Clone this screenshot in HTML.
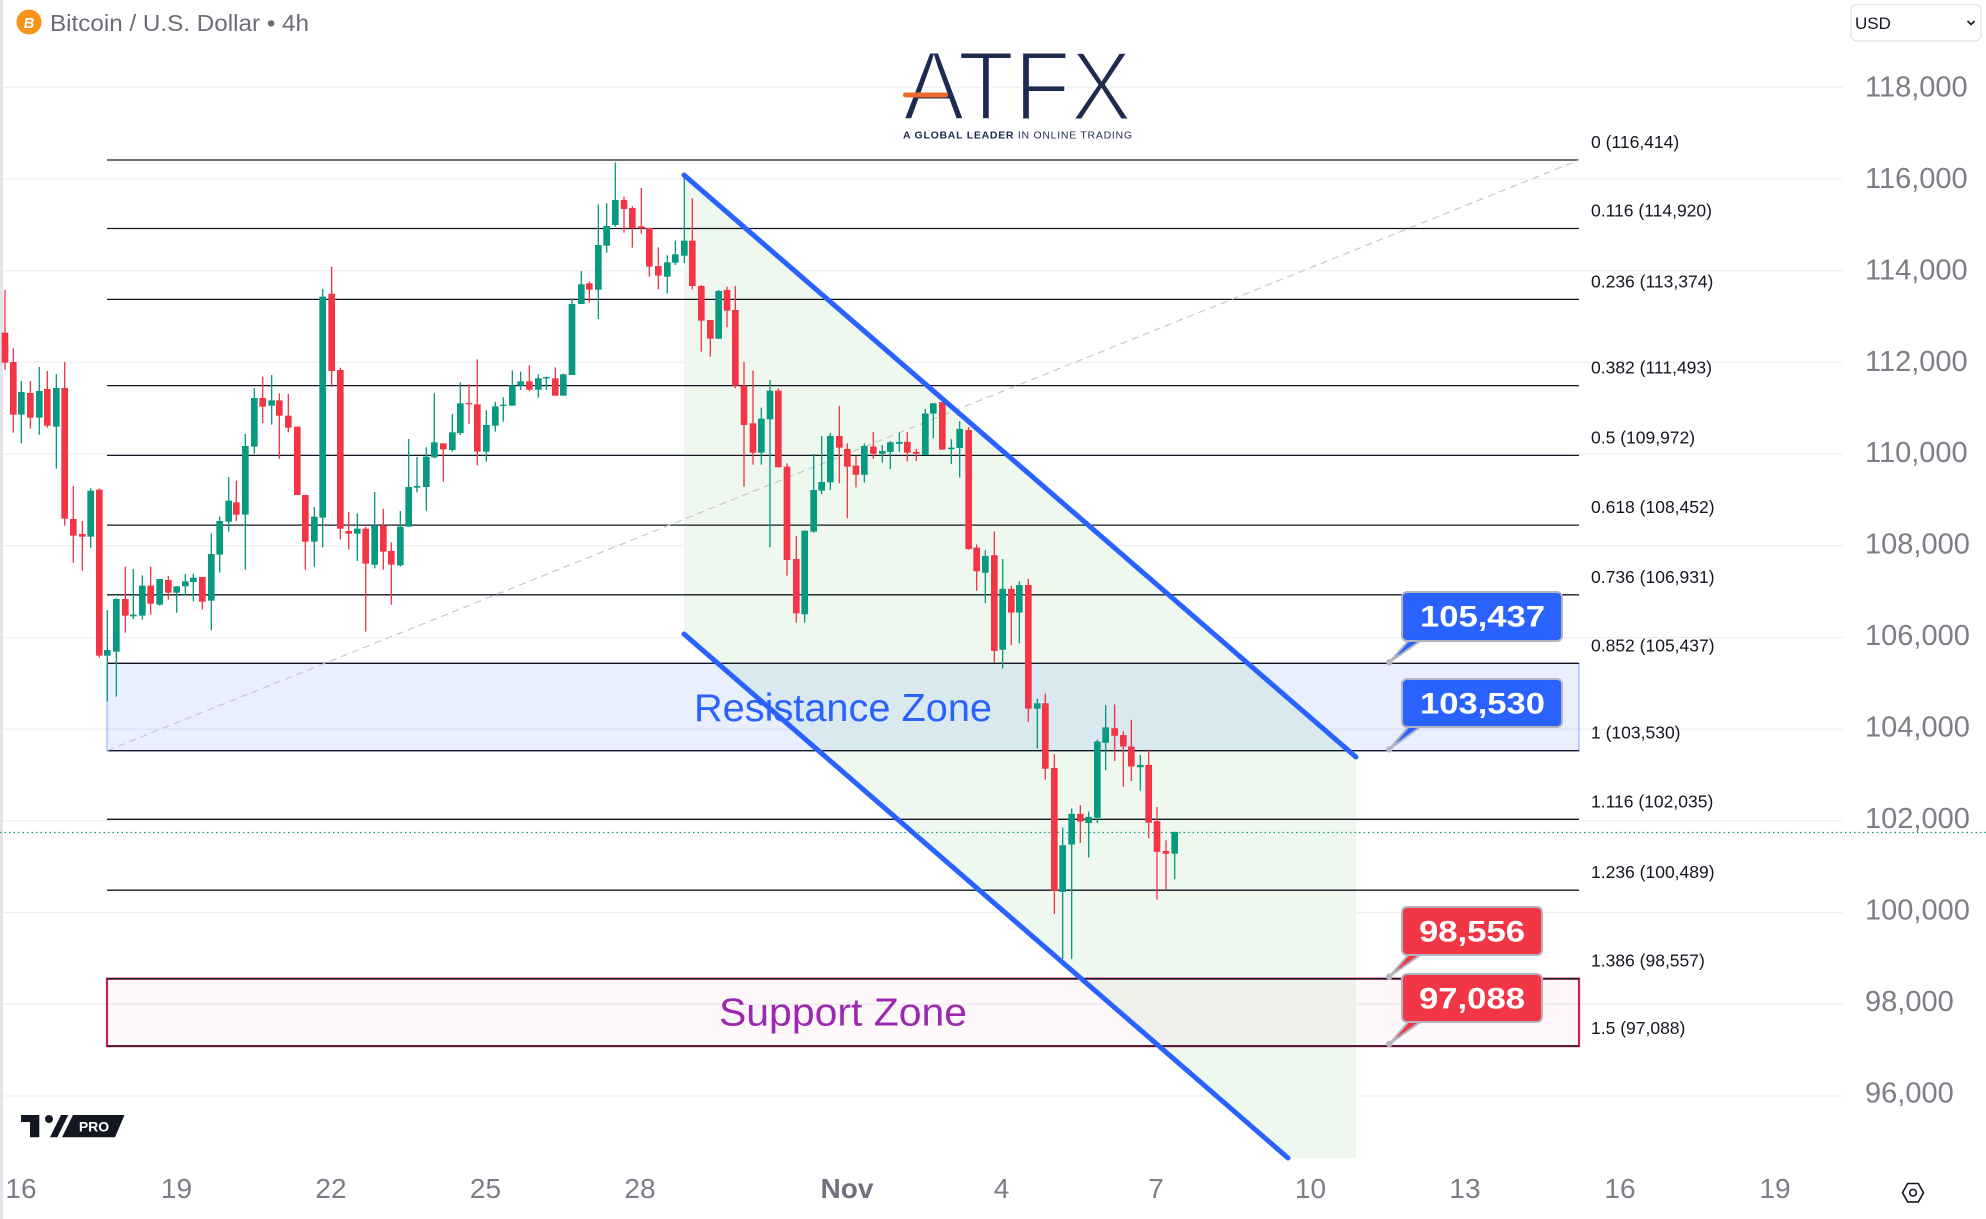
<!DOCTYPE html>
<html><head><meta charset="utf-8"><style>
html,body{margin:0;padding:0;background:#fff;}
svg{display:block;font-family:"Liberation Sans",Arial,sans-serif;}
</style></head><body>
<svg width="1986" height="1219" viewBox="0 0 1986 1219" xmlns="http://www.w3.org/2000/svg">
<rect width="1986" height="1219" fill="#fff"/>
<rect x="0" y="0" width="3" height="1219" fill="#e4e5ea"/>
<g stroke="#eff0f3" stroke-width="1.3">
<line x1="3" y1="87.3" x2="1843" y2="87.3"/><line x1="3" y1="179" x2="1843" y2="179"/><line x1="3" y1="270.7" x2="1843" y2="270.7"/><line x1="3" y1="362.4" x2="1843" y2="362.4"/><line x1="3" y1="454.1" x2="1843" y2="454.1"/><line x1="3" y1="545.8" x2="1843" y2="545.8"/><line x1="3" y1="637.5" x2="1843" y2="637.5"/><line x1="3" y1="729.2" x2="1843" y2="729.2"/><line x1="3" y1="820.9" x2="1843" y2="820.9"/><line x1="3" y1="912.6" x2="1843" y2="912.6"/><line x1="3" y1="1004.3" x2="1843" y2="1004.3"/><line x1="3" y1="1096" x2="1843" y2="1096"/>
</g>
<polygon points="684,175 1356,757 1356,1158 1288,1158 684,634" fill="#eff8ef"/>
<rect x="107" y="663.3" width="1472" height="87.4" fill="rgba(41,98,255,0.1)" stroke="rgba(41,98,255,0.4)" stroke-width="1.3"/>
<rect x="107" y="978.7" width="1472" height="67.4" fill="rgba(233,30,99,0.03)" stroke="#c8205e" stroke-width="2.2"/>
<g stroke="#131722" stroke-width="1.3">
<line x1="107" y1="160" x2="1579" y2="160"/><line x1="107" y1="228.5" x2="1579" y2="228.5"/><line x1="107" y1="299.4" x2="1579" y2="299.4"/><line x1="107" y1="385.6" x2="1579" y2="385.6"/><line x1="107" y1="455.4" x2="1579" y2="455.4"/><line x1="107" y1="525.1" x2="1579" y2="525.1"/><line x1="107" y1="594.8" x2="1579" y2="594.8"/><line x1="107" y1="663.3" x2="1579" y2="663.3"/><line x1="107" y1="750.7" x2="1579" y2="750.7"/><line x1="107" y1="819.3" x2="1579" y2="819.3"/><line x1="107" y1="890.2" x2="1579" y2="890.2"/><line x1="107" y1="978.7" x2="1579" y2="978.7"/><line x1="107" y1="1046.1" x2="1579" y2="1046.1"/>
</g>
<line x1="107" y1="750.7" x2="1579" y2="160" stroke="#c4c7cf" stroke-width="1.2" stroke-dasharray="7 5"/>
<line x1="0" y1="832.5" x2="1986" y2="832.5" stroke="#089981" stroke-width="1.3" stroke-dasharray="1.5 3"/>

<!-- candles group A -->
<g transform="translate(0,260) scale(0.333333)">
<g fill="#f23645">
<rect x="13" y="90" width="4" height="240"/><rect x="5" y="218" width="20" height="90"/>
<rect x="38" y="265" width="4" height="253"/><rect x="30" y="306" width="20" height="158"/>
<rect x="89" y="363" width="4" height="143"/><rect x="81" y="399" width="20" height="74"/>
<rect x="140" y="333" width="4" height="170"/><rect x="132" y="387" width="20" height="110"/>
<rect x="192" y="306" width="4" height="491"/><rect x="184" y="384" width="20" height="392"/>
<rect x="218" y="678" width="4" height="230"/><rect x="210" y="777" width="20" height="50"/>
<rect x="245" y="783" width="4" height="149"/><rect x="237" y="822" width="20" height="8"/>
<rect x="296" y="685" width="4" height="508"/><rect x="288" y="689" width="20" height="498"/>
<rect x="374" y="920" width="4" height="198"/><rect x="366" y="1017" width="20" height="50"/>
<rect x="450" y="920" width="4" height="144"/><rect x="442" y="977" width="20" height="54"/>
<rect x="503" y="948" width="4" height="71"/><rect x="495" y="960" width="20" height="38"/>
<rect x="605" y="951" width="4" height="98"/><rect x="597" y="951" width="20" height="74"/>
<rect x="707" y="662" width="4" height="121"/><rect x="699" y="727" width="20" height="37"/>
<rect x="786" y="350" width="4" height="139"/><rect x="778" y="414" width="20" height="26"/>
<rect x="836" y="400" width="4" height="196"/><rect x="828" y="421" width="20" height="46"/>
<rect x="863" y="402" width="4" height="115"/><rect x="855" y="467" width="20" height="36"/>
<rect x="890" y="500" width="4" height="205"/><rect x="882" y="500" width="20" height="205"/>
<rect x="914" y="705" width="4" height="224"/><rect x="906" y="705" width="20" height="140"/>
<rect x="993" y="20" width="4" height="360"/><rect x="985" y="101" width="20" height="232"/>
<rect x="1019" y="323" width="4" height="515"/><rect x="1011" y="330" width="20" height="476"/>
<rect x="1044" y="756" width="4" height="113"/><rect x="1036" y="813" width="20" height="8"/>
<rect x="1095" y="800" width="4" height="315"/><rect x="1087" y="806" width="20" height="105"/>
<rect x="1148" y="746" width="4" height="183"/><rect x="1140" y="797" width="20" height="78"/>
<rect x="1172" y="847" width="4" height="187"/><rect x="1164" y="873" width="20" height="41"/>
</g>
<g fill="#089981">
<rect x="62" y="363" width="4" height="187"/><rect x="54" y="396" width="20" height="68"/>
<rect x="116" y="321" width="4" height="203"/><rect x="108" y="393" width="20" height="80"/>
<rect x="167" y="342" width="4" height="284"/><rect x="159" y="384" width="20" height="116"/>
<rect x="270" y="685" width="4" height="178"/><rect x="262" y="692" width="20" height="138"/>
<rect x="320" y="1050" width="4" height="275"/><rect x="312" y="1170" width="20" height="17"/>
<rect x="347" y="1015" width="4" height="295"/><rect x="339" y="1017" width="20" height="158"/>
<rect x="398" y="927" width="4" height="150"/><rect x="390" y="1064" width="20" height="5"/>
<rect x="425" y="946" width="4" height="133"/><rect x="417" y="977" width="20" height="90"/>
<rect x="477" y="957" width="4" height="80"/><rect x="469" y="957" width="20" height="77"/>
<rect x="528" y="979" width="4" height="79"/><rect x="520" y="979" width="20" height="19"/>
<rect x="554" y="942" width="4" height="64"/><rect x="546" y="964" width="20" height="15"/>
<rect x="578" y="941" width="4" height="83"/><rect x="570" y="953" width="20" height="13"/>
<rect x="632" y="820" width="4" height="291"/><rect x="624" y="882" width="20" height="140"/>
<rect x="657" y="770" width="4" height="168"/><rect x="649" y="783" width="20" height="101"/>
<rect x="684" y="651" width="4" height="164"/><rect x="676" y="722" width="20" height="63"/>
<rect x="734" y="522" width="4" height="407"/><rect x="726" y="558" width="20" height="206"/>
<rect x="761" y="384" width="4" height="197"/><rect x="753" y="414" width="20" height="146"/>
<rect x="813" y="345" width="4" height="149"/><rect x="805" y="421" width="20" height="16"/>
<rect x="941" y="741" width="4" height="179"/><rect x="933" y="770" width="20" height="75"/>
<rect x="966" y="87" width="4" height="775"/><rect x="958" y="110" width="20" height="663"/>
<rect x="1070" y="760" width="4" height="143"/><rect x="1062" y="806" width="20" height="15"/>
<rect x="1122" y="696" width="4" height="229"/><rect x="1114" y="797" width="20" height="117"/>
<rect x="1199" y="753" width="4" height="167"/><rect x="1191" y="800" width="20" height="116"/>
<rect x="1224" y="537" width="4" height="263"/><rect x="1216" y="681" width="20" height="119"/>
<rect x="1249" y="591" width="4" height="106"/><rect x="1241" y="678" width="20" height="5"/>
<rect x="1277" y="562" width="4" height="190"/><rect x="1269" y="590" width="20" height="91"/>
</g>
</g>

<!-- candles group B -->
<g transform="translate(420,150) scale(0.333333)">
<g fill="#f23645">
<rect x="68" y="880" width="4" height="115"/><rect x="60" y="880" width="20" height="18"/>
<rect x="145" y="703" width="4" height="119"/><rect x="137" y="759" width="20" height="4"/>
<rect x="170" y="628" width="4" height="318"/><rect x="162" y="763" width="20" height="142"/>
<rect x="326" y="646" width="4" height="78"/><rect x="318" y="694" width="20" height="25"/>
<rect x="404" y="652" width="4" height="85"/><rect x="396" y="685" width="20" height="52"/>
<rect x="506" y="394" width="4" height="64"/><rect x="498" y="400" width="20" height="19"/>
<rect x="610" y="140" width="4" height="108"/><rect x="602" y="150" width="20" height="27"/>
<rect x="635" y="168" width="4" height="125"/><rect x="627" y="174" width="20" height="60"/>
<rect x="662" y="114" width="4" height="137"/><rect x="654" y="229" width="20" height="6"/>
<rect x="686" y="234" width="4" height="146"/><rect x="678" y="234" width="20" height="116"/>
<rect x="713" y="292" width="4" height="126"/><rect x="705" y="348" width="20" height="29"/>
<rect x="815" y="145" width="4" height="273"/><rect x="807" y="272" width="20" height="136"/>
<rect x="842" y="405" width="4" height="200"/><rect x="834" y="408" width="20" height="104"/>
<rect x="869" y="510" width="4" height="110"/><rect x="861" y="510" width="20" height="56"/>
<rect x="919" y="410" width="4" height="122"/><rect x="911" y="420" width="20" height="62"/>
<rect x="944" y="408" width="4" height="307"/><rect x="936" y="480" width="20" height="227"/>
<rect x="970" y="636" width="4" height="374"/><rect x="962" y="707" width="20" height="118"/>
<rect x="997" y="662" width="4" height="282"/><rect x="989" y="820" width="20" height="88"/>
<rect x="1073" y="715" width="4" height="237"/><rect x="1065" y="722" width="20" height="230"/>
<rect x="1099" y="940" width="4" height="337"/><rect x="1091" y="950" width="20" height="280"/>
<rect x="1127" y="1158" width="4" height="260"/><rect x="1119" y="1227" width="20" height="163"/>
<rect x="1256" y="768" width="4" height="232"/><rect x="1248" y="858" width="20" height="35"/>
<rect x="1280" y="880" width="4" height="225"/><rect x="1272" y="897" width="20" height="53"/>
</g>
<g fill="#089981">
<rect x="41" y="730" width="4" height="195"/><rect x="33" y="877" width="20" height="45"/>
<rect x="95" y="792" width="4" height="113"/><rect x="87" y="847" width="20" height="53"/>
<rect x="119" y="697" width="4" height="158"/><rect x="111" y="760" width="20" height="89"/>
<rect x="197" y="780" width="4" height="155"/><rect x="189" y="825" width="20" height="80"/>
<rect x="224" y="755" width="4" height="90"/><rect x="216" y="769" width="20" height="58"/>
<rect x="248" y="742" width="4" height="73"/><rect x="240" y="764" width="20" height="4"/>
<rect x="275" y="661" width="4" height="106"/><rect x="267" y="706" width="20" height="61"/>
<rect x="300" y="665" width="4" height="55"/><rect x="292" y="694" width="20" height="13"/>
<rect x="353" y="673" width="4" height="70"/><rect x="345" y="685" width="20" height="34"/>
<rect x="377" y="680" width="4" height="40"/><rect x="369" y="681" width="20" height="4"/>
<rect x="428" y="671" width="4" height="66"/><rect x="420" y="673" width="20" height="64"/>
<rect x="454" y="445" width="4" height="230"/><rect x="446" y="462" width="20" height="213"/>
<rect x="482" y="363" width="4" height="99"/><rect x="474" y="403" width="20" height="59"/>
<rect x="533" y="163" width="4" height="344"/><rect x="525" y="285" width="20" height="134"/>
<rect x="558" y="160" width="4" height="148"/><rect x="550" y="228" width="20" height="59"/>
<rect x="584" y="37" width="4" height="193"/><rect x="576" y="150" width="20" height="75"/>
<rect x="740" y="316" width="4" height="114"/><rect x="732" y="337" width="20" height="43"/>
<rect x="764" y="272" width="4" height="73"/><rect x="756" y="313" width="20" height="25"/>
<rect x="791" y="75" width="4" height="264"/><rect x="783" y="272" width="20" height="45"/>
<rect x="894" y="420" width="4" height="147"/><rect x="886" y="423" width="20" height="143"/>
<rect x="1022" y="773" width="4" height="171"/><rect x="1014" y="806" width="20" height="102"/>
<rect x="1048" y="690" width="4" height="502"/><rect x="1040" y="722" width="20" height="86"/>
<rect x="1152" y="1142" width="4" height="276"/><rect x="1144" y="1142" width="20" height="251"/>
<rect x="1179" y="912" width="4" height="236"/><rect x="1171" y="1020" width="20" height="125"/>
<rect x="1203" y="858" width="4" height="174"/><rect x="1195" y="996" width="20" height="26"/>
<rect x="1229" y="849" width="4" height="171"/><rect x="1221" y="858" width="20" height="139"/>
</g>
</g>

<!-- candles group C -->
<g transform="translate(740,360) scale(0.333333,0.3827)">
<g fill="#f23645">
<rect x="346" y="250" width="4" height="83"/><rect x="338" y="276" width="20" height="24"/>
<rect x="398" y="188" width="4" height="70"/><rect x="390" y="226" width="20" height="19"/>
<rect x="500" y="188" width="4" height="77"/><rect x="492" y="214" width="20" height="28"/>
<rect x="527" y="232" width="4" height="32"/><rect x="519" y="240" width="20" height="5"/>
<rect x="605" y="110" width="4" height="125"/><rect x="597" y="110" width="20" height="124"/>
<rect x="684" y="175" width="4" height="321"/><rect x="676" y="183" width="20" height="311"/>
<rect x="708" y="482" width="4" height="121"/><rect x="700" y="490" width="20" height="62"/>
<rect x="761" y="448" width="4" height="342"/><rect x="753" y="510" width="20" height="250"/>
<rect x="812" y="590" width="4" height="155"/><rect x="804" y="598" width="20" height="62"/>
<rect x="863" y="572" width="4" height="374"/><rect x="855" y="588" width="20" height="323"/>
<rect x="914" y="872" width="4" height="225"/><rect x="906" y="897" width="20" height="171"/>
<rect x="941" y="1030" width="4" height="418"/><rect x="933" y="1066" width="20" height="321"/>
<rect x="1019" y="1163" width="4" height="99"/><rect x="1011" y="1186" width="20" height="20"/>
<rect x="1122" y="900" width="4" height="148"/><rect x="1114" y="962" width="20" height="20"/>
<rect x="1148" y="970" width="4" height="145"/><rect x="1140" y="980" width="20" height="30"/>
<rect x="1172" y="940" width="4" height="160"/><rect x="1164" y="1010" width="20" height="52"/>
<rect x="1224" y="1018" width="4" height="232"/><rect x="1216" y="1058" width="20" height="151"/>
<rect x="1249" y="1168" width="4" height="242"/><rect x="1241" y="1205" width="20" height="80"/>
<rect x="1276" y="1255" width="4" height="128"/><rect x="1268" y="1283" width="20" height="7"/>
</g>
<g fill="#089981">
<rect x="371" y="218" width="4" height="102"/><rect x="363" y="225" width="20" height="75"/>
<rect x="425" y="222" width="4" height="46"/><rect x="417" y="238" width="20" height="7"/>
<rect x="449" y="212" width="4" height="73"/><rect x="441" y="215" width="20" height="25"/>
<rect x="476" y="190" width="4" height="50"/><rect x="468" y="214" width="20" height="5"/>
<rect x="554" y="128" width="4" height="120"/><rect x="546" y="140" width="20" height="108"/>
<rect x="578" y="113" width="4" height="92"/><rect x="570" y="113" width="20" height="27"/>
<rect x="632" y="207" width="4" height="65"/><rect x="624" y="229" width="20" height="4"/>
<rect x="657" y="160" width="4" height="147"/><rect x="649" y="180" width="20" height="50"/>
<rect x="734" y="497" width="4" height="138"/><rect x="726" y="512" width="20" height="44"/>
<rect x="786" y="520" width="4" height="286"/><rect x="778" y="598" width="20" height="159"/>
<rect x="836" y="578" width="4" height="162"/><rect x="828" y="588" width="20" height="72"/>
<rect x="890" y="885" width="4" height="130"/><rect x="882" y="897" width="20" height="14"/>
<rect x="966" y="1222" width="4" height="343"/><rect x="958" y="1268" width="20" height="122"/>
<rect x="993" y="1172" width="4" height="393"/><rect x="985" y="1186" width="20" height="80"/>
<rect x="1044" y="1180" width="4" height="120"/><rect x="1036" y="1194" width="20" height="16"/>
<rect x="1070" y="992" width="4" height="218"/><rect x="1062" y="997" width="20" height="199"/>
<rect x="1095" y="902" width="4" height="170"/><rect x="1087" y="960" width="20" height="40"/>
<rect x="1199" y="1032" width="4" height="93"/><rect x="1191" y="1058" width="20" height="6"/>
<rect x="1302" y="1233" width="4" height="124"/><rect x="1294" y="1233" width="20" height="57"/>
</g>
</g>

<!-- zone texts -->
<text x="694" y="721" font-size="39" fill="#2962ff" textLength="298" lengthAdjust="spacingAndGlyphs">Resistance Zone</text>
<text x="719" y="1025.7" font-size="39" fill="#9c27b0" textLength="248" lengthAdjust="spacingAndGlyphs">Support Zone</text>

<!-- channel lines -->
<g stroke="#2962ff" stroke-width="5" stroke-linecap="round">
<line x1="684" y1="175" x2="1356" y2="757"/>
<line x1="684" y1="634" x2="1288" y2="1158"/>
</g>

<!-- fib labels -->
<g font-size="17.5" fill="#131722">
<text x="1591" y="148">0 (116,414)</text>
<text x="1591" y="216.5">0.116 (114,920)</text>
<text x="1591" y="287.4">0.236 (113,374)</text>
<text x="1591" y="373.6">0.382 (111,493)</text>
<text x="1591" y="443.4">0.5 (109,972)</text>
<text x="1591" y="513.1">0.618 (108,452)</text>
<text x="1591" y="582.8">0.736 (106,931)</text>
<text x="1591" y="651.3">0.852 (105,437)</text>
<text x="1591" y="738.7">1 (103,530)</text>
<text x="1591" y="807.3">1.116 (102,035)</text>
<text x="1591" y="878.2">1.236 (100,489)</text>
<text x="1591" y="966.7">1.386 (98,557)</text>
<text x="1591" y="1034.1">1.5 (97,088)</text>
</g>

<!-- callouts -->
<g stroke="#b2b5be" stroke-width="2" stroke-linejoin="round">
<polygon points="1410,639 1423,639 1389.3,662.3" fill="#2962ff"/>
<rect x="1402" y="592" width="160" height="49" rx="5" fill="#2962ff"/>
<polygon points="1410,725 1423,725 1389.3,749.3" fill="#2962ff"/>
<rect x="1402" y="679" width="160" height="48" rx="5" fill="#2962ff"/>
<polygon points="1410,953 1423,953 1389.3,976.7" fill="#f23645"/>
<rect x="1402" y="907" width="140" height="48" rx="5" fill="#f23645"/>
<polygon points="1410,1020 1423,1020 1389.3,1044" fill="#f23645"/>
<rect x="1402" y="974" width="140" height="48" rx="5" fill="#f23645"/>
</g>
<g fill="#b2b5be"><circle cx="1389.3" cy="662.3" r="3.2"/><circle cx="1389.3" cy="749.3" r="3.2"/><circle cx="1389.3" cy="976.7" r="3.2"/><circle cx="1389.3" cy="1044" r="3.2"/></g>
<g fill="#fff" font-weight="bold" font-size="30">
<text x="1420" y="626.7" textLength="125" lengthAdjust="spacingAndGlyphs">105,437</text>
<text x="1420" y="713.3" textLength="125" lengthAdjust="spacingAndGlyphs">103,530</text>
<text x="1419" y="941.7" textLength="106" lengthAdjust="spacingAndGlyphs">98,556</text>
<text x="1419" y="1008.3" textLength="106" lengthAdjust="spacingAndGlyphs">97,088</text>
</g>

<!-- price axis -->
<g font-size="29" fill="#7b7e87">
<text x="1865" y="96.4">118,000</text>
<text x="1865" y="187.9">116,000</text>
<text x="1865" y="279.3">114,000</text>
<text x="1865" y="370.8">112,000</text>
<text x="1865" y="462.2">110,000</text>
<text x="1865" y="553.7">108,000</text>
<text x="1865" y="645.1">106,000</text>
<text x="1865" y="736.6">104,000</text>
<text x="1865" y="828">102,000</text>
<text x="1865" y="919.5">100,000</text>
<text x="1865" y="1010.9">98,000</text>
<text x="1865" y="1102.4">96,000</text>
</g>

<!-- time axis -->
<g font-size="28" fill="#7b7e87" text-anchor="middle">
<text x="21" y="1198">16</text>
<text x="176.5" y="1198">19</text>
<text x="331" y="1198">22</text>
<text x="485.5" y="1198">25</text>
<text x="640" y="1198">28</text>
<text x="847" y="1198" font-weight="bold" fill="#6f727c">Nov</text>
<text x="1001.5" y="1198">4</text>
<text x="1156" y="1198">7</text>
<text x="1310.5" y="1198">10</text>
<text x="1465" y="1198">13</text>
<text x="1620" y="1198">16</text>
<text x="1775" y="1198">19</text>
</g>

<!-- settings icon -->
<polygon points="1902.5,1192.7 1907.7,1183.5 1918.3,1183.5 1923.5,1192.7 1918.3,1201.9 1907.7,1201.9" fill="none" stroke="#131722" stroke-width="1.6"/>
<circle cx="1913" cy="1192.7" r="3.3" fill="none" stroke="#131722" stroke-width="1.6"/>

<!-- USD box -->
<rect x="1851" y="4.5" width="130" height="36.5" rx="6" fill="#fff" stroke="#e0e3eb" stroke-width="1.3"/>
<text x="1855" y="29" font-size="17" fill="#131722">USD</text>
<path d="M1967.5 21 l3.5 3.5 l3.5 -3.5" fill="none" stroke="#131722" stroke-width="1.6"/>

<!-- title -->
<circle cx="29" cy="22" r="12.5" fill="#f7931a"/>
<text x="29" y="28" font-size="15" font-weight="bold" fill="#fff" text-anchor="middle" font-style="italic">B</text>
<text x="50" y="31" font-size="23" fill="#6a6d78" textLength="259" lengthAdjust="spacingAndGlyphs">Bitcoin / U.S. Dollar • 4h</text>

<!-- ATFX logo -->
<text x="903" y="120" font-size="98" fill="#1c2b4f" stroke="#fff" stroke-width="3" textLength="229" lengthAdjust="spacingAndGlyphs">ATFX</text>
<rect x="903" y="92.5" width="45" height="5" rx="2.5" fill="#ee6a2c"/>
<text x="903" y="138.5" font-size="10.5" fill="#1c2b4f" textLength="229" lengthAdjust="spacing"><tspan font-weight="bold">A GLOBAL LEADER</tspan> IN ONLINE TRADING</text>

<!-- TV logo -->
<path d="M21 1115 H39.3 V1137.3 H30 V1122 H21 Z" fill="#131722"/>
<circle cx="49" cy="1119" r="4" fill="#131722"/>
<polygon points="50,1137.3 61,1115 68.3,1115 57.3,1137.3" fill="#131722"/>
<polygon points="62,1137.3 73,1115 124.5,1115 115,1137.3" fill="#131722"/>
<text x="94" y="1131.5" font-size="14" font-weight="bold" fill="#fff" text-anchor="middle">PRO</text>
</svg>
</body></html>
